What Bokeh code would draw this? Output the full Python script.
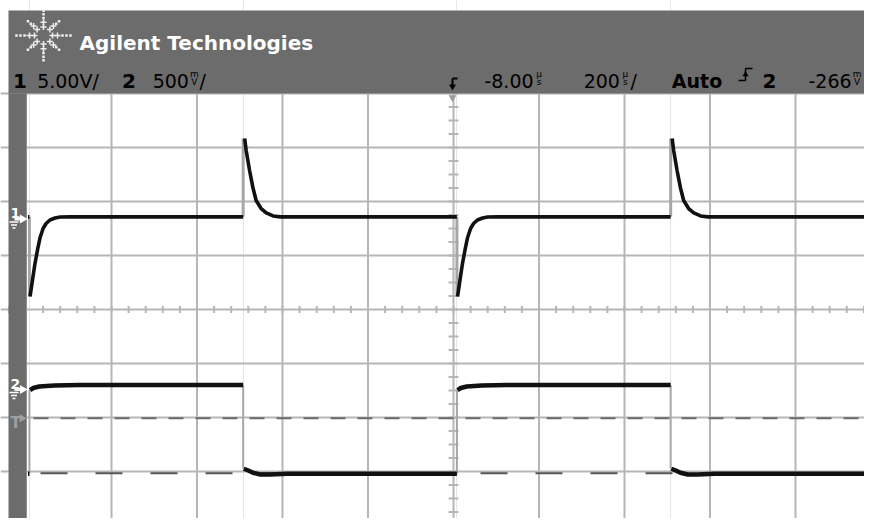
import math
from bokeh.plotting import figure
from bokeh.models import Range1d
from bokeh.embed import file_html
from bokeh.resources import INLINE
from bokeh.core.properties import value

# ---------------- data ----------------
TIME_PER_DIV_US = 200.0
DELAY_US = -8.0
CH1_VOLTS_PER_DIV = 5.0
CH2_VOLTS_PER_DIV = 0.5
TRIGGER_LEVEL_V = -0.266
CH2_MARK_V = -0.775

RISE_EDGES_US = [-1000.0, 0.0]     # ch2 rising edge / ch1 negative dip
FALL_EDGES_US = [-500.0, 500.0]    # ch2 falling edge / ch1 positive spike

CH1_REST_V = 0.2
CH1_DIP_DT_US = [1.5, 6, 13, 20, 25, 32, 39, 48, 60, 72, 95]
CH1_DIP_V = [-7.18, -5.97, -4.12, -2.64, -1.71, -0.88, -0.42, -0.09, 0.09, 0.19, 0.2]
CH1_SPIKE_DT_US = [3.5, 7, 15, 22.7, 30.4, 42, 54, 70, 87]
CH1_SPIKE_V = [7.45, 6.34, 4.49, 2.92, 1.71, 0.97, 0.56, 0.28, 0.2]

CH2_RISE_DT_US = [1.5, 9, 23, 58, 117]
CH2_RISE_V = [-0.005, 0.014, 0.028, 0.037, 0.041]
CH2_FALL_DT_US = [1.5, 12, 23, 40, 63, 103]
CH2_FALL_V = [-0.734, -0.75, -0.771, -0.787, -0.787, -0.781]

TITLE_TEXT = "Agilent Technologies"
CH1_NUM = "1"
CH1_SCALE = "5.00V/"
CH2_NUM = "2"
CH2_SCALE_NUM = "500"
DELAY_NUM = "-8.00"
TIMEBASE_NUM = "200"
MODE_TEXT = "Auto"
TRIG_SRC = "2"
TRIG_LEVEL_NUM = "-266"

# ---------------- layout (screen geometry) ----------------
W, H = 864, 518
IMG_CX, IMG_CY = 453.0, 309.0
PX_DIV_X, PX_DIV_Y = 85.5, 54.0
CH1_GROUND_PY = 218.5
CH2_GROUND_PY = 389.0

GRID_C = "#b6b6b6"
PANEL_C = "#6c6c6c"
TRACE_C = "#111111"
EDGE_C = "#a6a6a6"
FONT = value("DejaVu Sans")


def tx(px):
    return DELAY_US + (px - IMG_CX) / PX_DIV_X * TIME_PER_DIV_US


def ty(py):
    return (IMG_CY - py) / PX_DIV_Y


CH1_OFF = ty(CH1_GROUND_PY)
CH2_OFF = ty(CH2_GROUND_PY)


def ch1_y(v):
    return CH1_OFF + v / CH1_VOLTS_PER_DIV


def ch2_y(v):
    return CH2_OFF + v / CH2_VOLTS_PER_DIV


T_LEFT, T_RIGHT = tx(0), tx(W)
Y_BOT, Y_TOP = ty(H), ty(0)

p = figure(width=W, height=H, x_range=Range1d(T_LEFT, T_RIGHT),
           y_range=Range1d(Y_BOT, Y_TOP), output_backend="svg",
           toolbar_location=None, x_axis_location=None, y_axis_location=None,
           min_border=0, outline_line_color=None, title=None,
           background_fill_color="white", border_fill_color="white")

# ---- graticule ----
gx = [DELAY_US + k * TIME_PER_DIV_US for k in range(-5, 5)]
p.segment(x0=gx, x1=gx, y0=[-4] * len(gx), y1=[4] * len(gx),
          line_color=GRID_C, line_width=2)
gy = list(range(-4, 5))
p.segment(x0=[T_LEFT] * len(gy), x1=[T_RIGHT] * len(gy), y0=gy, y1=gy,
          line_color=GRID_C, line_width=2)

minor_t = [DELAY_US + k * TIME_PER_DIV_US / 5 for k in range(-26, 26)]
minor_t = [t for t in minor_t if T_LEFT < t < T_RIGHT]
hx = 3.5 / PX_DIV_Y
p.segment(x0=minor_t, x1=minor_t, y0=[-hx] * len(minor_t), y1=[hx] * len(minor_t),
          line_color=GRID_C, line_width=2)
minor_y = [k * 0.25 for k in range(-16, 17)]
hw = 5.0 / PX_DIV_X * TIME_PER_DIV_US
p.segment(x0=[DELAY_US - hw] * len(minor_y), x1=[DELAY_US + hw] * len(minor_y),
          y0=minor_y, y1=minor_y, line_color=GRID_C, line_width=2)

# ---- reference levels ----
p.line([tx(26), T_RIGHT], [ch2_y(TRIGGER_LEVEL_V)] * 2, line_color="#6a6a6a",
       line_width=2, line_dash="15 12", line_dash_offset=20)
p.line([tx(26), T_RIGHT], [ch2_y(CH2_MARK_V)] * 2, line_color="#555555",
       line_width=2, line_dash="27 28", line_dash_offset=41)


# ---- traces ----
def build(events, templates, before_level, t_start, t_end, first_level):
    xs, ys, ex, ey0, ey1 = [], [], [], [], []
    cx, cy = [t_start], [first_level]
    for te, kind in events:
        cx.append(te)
        cy.append(before_level[kind])
        xs.append(cx)
        ys.append(cy)
        dts, vs = templates[kind]
        ex.append(te)
        ey0.append(before_level[kind])
        ey1.append(vs[0])
        cx = [te + d for d in dts]
        cy = list(vs)
    cx.append(t_end)
    cy.append(cy[-1])
    xs.append(cx)
    ys.append(cy)
    return xs, ys, ex, ey0, ey1


t_start = tx(27.5)
events = sorted([(t, "rise") for t in RISE_EDGES_US] + [(t, "fall") for t in FALL_EDGES_US])

# channel 1
xs1, ys1, ex1, e10, e11 = build(
    events,
    {"rise": (CH1_DIP_DT_US, CH1_DIP_V), "fall": (CH1_SPIKE_DT_US, CH1_SPIKE_V)},
    {"rise": CH1_REST_V, "fall": CH1_REST_V}, t_start, T_RIGHT, CH1_REST_V)
ys1 = [[ch1_y(v) for v in row] for row in ys1]
p.segment(x0=ex1, x1=ex1, y0=[ch1_y(v) for v in e10], y1=[ch1_y(v) for v in e11],
          line_color=EDGE_C, line_width=3)
p.multi_line(xs1, ys1, line_color=TRACE_C, line_width=3.6, line_join="round")

# channel 2
CH2_HIGH_V = CH2_RISE_V[-1]
CH2_LOW_V = CH2_FALL_V[-1]
xs2, ys2, ex2, e20, e21 = build(
    events,
    {"rise": (CH2_RISE_DT_US, CH2_RISE_V), "fall": (CH2_FALL_DT_US, CH2_FALL_V)},
    {"rise": CH2_LOW_V, "fall": CH2_HIGH_V}, t_start, T_RIGHT, CH2_LOW_V)
ys2 = [[ch2_y(v) for v in row] for row in ys2]
p.segment(x0=ex2, x1=ex2, y0=[ch2_y(v) for v in e20], y1=[ch2_y(v) for v in e21],
          line_color=EDGE_C, line_width=2)
p.multi_line(xs2, ys2, line_color=TRACE_C, line_width=4.5, line_join="round")

# ---- panels ----
p.quad(left=[tx(8)], right=[T_RIGHT], top=[ty(10)], bottom=[ty(93)],
       fill_color=PANEL_C, line_color=None)
p.quad(left=[tx(8)], right=[tx(26)], top=[ty(93)], bottom=[Y_BOT],
       fill_color=PANEL_C, line_color=None)

# ---- logo ----
LOGO_X, LOGO_Y = 43, 35
cxs, cys, dxs, dys = [], [], [], []
for k in range(8):
    a = k * math.pi / 4
    ca, sa = math.cos(a), math.sin(a)
    for r in (9, 14):
        cxs.append(tx(LOGO_X + r * ca)); cys.append(ty(LOGO_Y - 0.95 * r * sa))
    rads = (19, 23, 27) if k % 2 == 0 else (18, 22)
    for r in rads:
        dxs.append(tx(LOGO_X + r * ca)); dys.append(ty(LOGO_Y - 0.92 * r * sa))
p.scatter(cxs, cys, marker="cross", size=6, line_color="#eeeeee", line_width=1.5)
p.scatter(dxs, dys, marker="square", size=2.5, fill_color="#eeeeee", line_color=None)


def txt(px, py, s, size, color="black", style="normal", align="left"):
    p.text(x=[tx(px)], y=[ty(py)], text=[s], text_font=FONT, text_font_size=size,
           text_font_style=style, text_color=color, text_baseline="alphabetic",
           text_align=align)


ADV = {"0": .636, "1": .636, "2": .636, "3": .636, "4": .636, "5": .636, "6": .636,
       "7": .636, "8": .636, "9": .636, ".": .318, "V": .684, "/": .337, "-": .361}
NUM_PX = 19
RB = 80


def width(s, fs=NUM_PX):
    return sum(ADV.get(c, .6) for c in s) * fs


def unit_group(left, num, top_u, bot_u, slash):
    wnum = width(num)
    txt(left, RB, num, f"{NUM_PX}px")
    ux = left + wnum + 5.5
    txt(ux, RB - 7, top_u, "9px", align="center")
    txt(ux, RB + 1, bot_u, "9px", align="center")
    if slash:
        txt(ux + 5, RB, "/", f"{NUM_PX}px")


def group_width(num, slash):
    return width(num) + 11 + (width("/") if slash else 0)


txt(79, 42, TITLE_TEXT, "20px", "white", "bold")

txt(19.5, RB, CH1_NUM, "20px", style="bold", align="center")
txt(67.5, RB, CH1_SCALE, f"{NUM_PX}px", align="center")
txt(128.5, RB, CH2_NUM, "20px", style="bold", align="center")
unit_group(179 - group_width(CH2_SCALE_NUM, True) / 2, CH2_SCALE_NUM, "m", "V", True)

unit_group(514 - group_width(DELAY_NUM, False) / 2, DELAY_NUM, "µ", "s", False)
unit_group(610 - group_width(TIMEBASE_NUM, True) / 2, TIMEBASE_NUM, "µ", "s", True)
txt(696.5, RB, MODE_TEXT, f"{NUM_PX}px", style="bold", align="center")
txt(769, RB, TRIG_SRC, "20px", style="bold", align="center")
unit_group(835 - group_width(TRIG_LEVEL_NUM, False) / 2, TRIG_LEVEL_NUM, "m", "V", False)

# delay marker and trigger-slope symbol
p.segment(x0=[tx(452), tx(452)], x1=[tx(452), tx(457)], y0=[ty(RB - 2), ty(RB - 2)],
          y1=[ty(RB + 5), ty(RB - 2)], line_color="black", line_width=2)
p.scatter([tx(452)], [ty(RB + 6)], marker="inverted_triangle", size=7, fill_color="black",
          line_color=None)
p.scatter([tx(452)], [ty(97)], marker="inverted_triangle", size=8, fill_color="#9c9c9c",
          line_color=None)
p.segment(x0=[tx(738), tx(745), tx(745)], x1=[tx(745), tx(745), tx(752)],
          y0=[ty(RB), ty(RB), ty(RB - 12)], y1=[ty(RB), ty(RB - 12), ty(RB - 12)],
          line_color="black", line_width=1.5)
p.scatter([tx(745)], [ty(RB - 6)], marker="triangle", size=6, fill_color="black",
          line_color=None)

# ---- channel ground / trigger markers in the left strip ----
for num, gpy, col in ((CH1_NUM, CH1_GROUND_PY, "white"), (CH2_NUM, CH2_GROUND_PY, "white")):
    txt(10, gpy - 6, num, "14px", col, "bold")
    p.segment(x0=[tx(14)], x1=[tx(21)], y0=[ty(gpy)], y1=[ty(gpy)], line_color=col,
              line_width=3)
    p.scatter([tx(22)], [ty(gpy)], marker="triangle", angle=-math.pi / 2, size=9,
              fill_color=col, line_color=None)
    p.segment(x0=[tx(9), tx(10.5), tx(12)], x1=[tx(18), tx(16.5), tx(15)],
              y0=[ty(gpy + 3), ty(gpy + 6), ty(gpy + 9)],
              y1=[ty(gpy + 3), ty(gpy + 6), ty(gpy + 9)], line_color=col, line_width=1.5)
TRIG_PY = IMG_CY - ch2_y(TRIGGER_LEVEL_V) * PX_DIV_Y
txt(10, TRIG_PY + 5, "T", "15px", "#a0a0a0", "bold")
p.scatter([tx(21.5)], [ty(TRIG_PY)], marker="triangle", angle=-math.pi / 2, size=8,
          fill_color="#a0a0a0", line_color=None)

open("out.html", "w").write(file_html(p, INLINE))
